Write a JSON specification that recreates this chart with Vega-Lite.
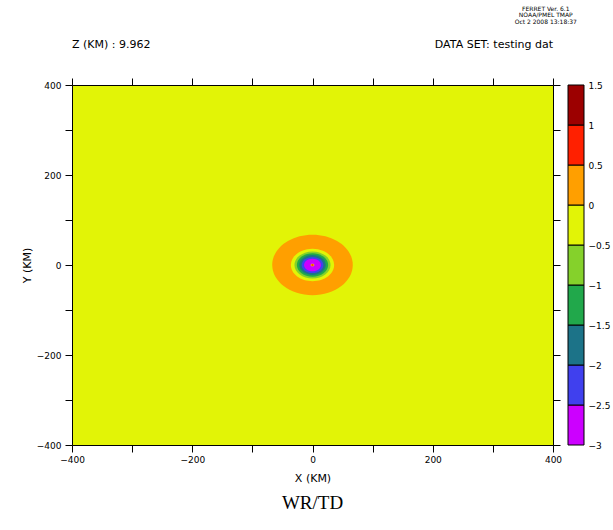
{
  "$schema": "https://vega.github.io/schema/vega-lite/v6.json",
  "background": "white",
  "autosize": {"type": "pad"},
  "padding": {"left": 21, "top": 5, "right": 5, "bottom": 5},
  "config": {
    "font": "DejaVu Sans",
    "view": {"stroke": null},
    "axis": {
      "grid": false,
      "domainColor": "black",
      "tickColor": "black",
      "labelColor": "black",
      "titleColor": "black",
      "labelFont": "DejaVu Sans",
      "titleFont": "DejaVu Sans",
      "labelFontSize": 9,
      "titleFontSize": 11,
      "titleFontWeight": "normal",
      "tickSize": 7,
      "domainWidth": 1,
      "tickWidth": 1
    }
  },
  "spacing": 15,
  "bounds": "flush",
  "hconcat": [
    {
      "width": 481,
      "height": 360,
      "view": {"fill": "#e2f406", "stroke": null},
      "resolve": {"axis": {"x": "independent", "y": "independent"}},
      "layer": [
        {
          "data": {"values": [
            {"x": 0, "y": 0, "r": 67, "v": 0.25},
            {"x": 0, "y": 0, "r": 36, "v": -0.25},
            {"x": 0, "y": 0, "r": 30, "v": -0.75},
            {"x": 0, "y": 0, "r": 26, "v": -1.25},
            {"x": 0, "y": 0, "r": 22, "v": -1.75},
            {"x": 0, "y": 0, "r": 18, "v": -2.25},
            {"x": 0, "y": 0, "r": 14, "v": -2.75},
            {"x": 0, "y": 0, "r": 3, "v": -0.25},
            {"x": 0, "y": 0, "r": 2.4, "v": 0.25},
            {"x": 0, "y": 0, "r": 1.7, "v": 0.75}
          ]},
          "mark": {"type": "point", "shape": "M-1,0A1,0.7484,0,1,0,1,0A1,0.7484,0,1,0,-1,0Z", "filled": true, "opacity": 1, "strokeWidth": 0},
          "encoding": {
            "x": {"field": "x", "type": "quantitative",
              "scale": {"domain": [-400, 400], "nice": false, "zero": false},
              "axis": {"orient": "bottom", "values": [-400, -300, -200, -100, 0, 100, 200, 300, 400], "format": "d",
                "labelExpr": "datum.value % 200 == 0 ? datum.label : ''",
                "title": "X (KM)", "labelPadding": 3, "titlePadding": 8,
                "labelFlush": false, "labelOverlap": false, "labelBound": false}},
            "y": {"field": "y", "type": "quantitative",
              "scale": {"domain": [-400, 400], "nice": false, "zero": false},
              "axis": {"orient": "left", "values": [-400, -300, -200, -100, 0, 100, 200, 300, 400], "format": "d",
                "labelExpr": "datum.value % 200 == 0 ? datum.label : ''",
                "title": "Y (KM)", "labelPadding": 4, "titlePadding": 4,
                "labelFlush": false, "labelOverlap": false, "labelBound": false}},
            "fill": {"field": "v", "type": "quantitative",
              "scale": {"type": "threshold", "domain": [-2.5, -2, -1.5, -1, -0.5, 0, 0.5, 1],
                "range": ["#cc00ff", "#4040ee", "#1c7388", "#21a84b", "#85d12b", "#e2f406", "#ff9f00", "#ff2000", "#9c0000"]},
              "legend": null},
            "size": {"field": "r", "type": "quantitative",
              "scale": {"type": "pow", "exponent": 2, "domain": [0, 100], "range": [0, 14460]},
              "legend": null},
            "order": {"field": "r", "type": "quantitative", "sort": "descending"}
          }
        },
        {
          "data": {"values": [{"t": ""}]},
          "mark": {"type": "text"},
          "encoding": {
            "x": {"datum": 0, "type": "quantitative",
              "axis": {"orient": "top", "values": [-400, -300, -200, -100, 0, 100, 200, 300, 400], "labels": false, "title": null}},
            "y": {"datum": 0, "type": "quantitative",
              "axis": {"orient": "right", "values": [-400, -300, -200, -100, 0, 100, 200, 300, 400], "labels": false, "title": null}},
            "text": {"field": "t"}
          }
        },
        {
          "data": {"values": [{"t": "Z (KM) : 9.962"}]},
          "mark": {"type": "text", "align": "left", "baseline": "middle", "fontSize": 11, "font": "DejaVu Sans", "color": "black"},
          "encoding": {
            "x": {"datum": -400, "type": "quantitative", "axis": null},
            "y": {"datum": 488, "type": "quantitative", "axis": null},
            "text": {"field": "t"}
          }
        },
        {
          "data": {"values": [{"t": "DATA SET: testing dat"}]},
          "mark": {"type": "text", "align": "right", "baseline": "middle", "fontSize": 11, "font": "DejaVu Sans", "color": "black"},
          "encoding": {
            "x": {"datum": 400, "type": "quantitative", "axis": null},
            "y": {"datum": 488, "type": "quantitative", "axis": null},
            "text": {"field": "t"}
          }
        },
        {
          "data": {"values": [{"t": "FERRET Ver. 6.1"}]},
          "mark": {"type": "text", "align": "center", "baseline": "middle", "fontSize": 6, "font": "DejaVu Sans", "color": "black"},
          "encoding": {
            "x": {"datum": 388, "type": "quantitative", "axis": null},
            "y": {"datum": 570, "type": "quantitative", "axis": null},
            "text": {"field": "t"}
          }
        },
        {
          "data": {"values": [{"t": "NOAA/PMEL TMAP"}]},
          "mark": {"type": "text", "align": "center", "baseline": "middle", "fontSize": 6, "font": "DejaVu Sans", "color": "black"},
          "encoding": {
            "x": {"datum": 388, "type": "quantitative", "axis": null},
            "y": {"datum": 556, "type": "quantitative", "axis": null},
            "text": {"field": "t"}
          }
        },
        {
          "data": {"values": [{"t": "Oct  2 2008 13:18:37"}]},
          "mark": {"type": "text", "align": "center", "baseline": "middle", "fontSize": 6, "font": "DejaVu Sans", "color": "black"},
          "encoding": {
            "x": {"datum": 388, "type": "quantitative", "axis": null},
            "y": {"datum": 541, "type": "quantitative", "axis": null},
            "text": {"field": "t"}
          }
        },
        {
          "data": {"values": [{"t": "WR/TD"}]},
          "mark": {"type": "text", "align": "center", "baseline": "middle", "fontSize": 19, "font": "Liberation Serif", "color": "black"},
          "encoding": {
            "x": {"datum": 0, "type": "quantitative", "axis": null},
            "y": {"datum": -529, "type": "quantitative", "axis": null},
            "text": {"field": "t"}
          }
        }
      ]
    },
    {
      "width": 16,
      "height": 360,
      "data": {"values": [
        {"lo": -3, "hi": -2.5, "v": -2.75},
        {"lo": -2.5, "hi": -2, "v": -2.25},
        {"lo": -2, "hi": -1.5, "v": -1.75},
        {"lo": -1.5, "hi": -1, "v": -1.25},
        {"lo": -1, "hi": -0.5, "v": -0.75},
        {"lo": -0.5, "hi": 0, "v": -0.25},
        {"lo": 0, "hi": 0.5, "v": 0.25},
        {"lo": 0.5, "hi": 1, "v": 0.75},
        {"lo": 1, "hi": 1.5, "v": 1.25}
      ]},
      "mark": {"type": "rect", "stroke": "black", "strokeWidth": 1},
      "encoding": {
        "y": {"field": "lo", "type": "quantitative",
          "scale": {"domain": [-3, 1.5], "nice": false, "zero": false},
          "axis": {"orient": "right", "values": [-3, -2.5, -2, -1.5, -1, -0.5, 0, 0.5, 1, 1.5], "format": "~g",
            "domain": false, "ticks": false, "labelPadding": 4, "title": null,
            "labelFlush": false, "labelOverlap": false, "labelBound": false}},
        "y2": {"field": "hi"},
        "fill": {"field": "v", "type": "quantitative",
          "scale": {"type": "threshold", "domain": [-2.5, -2, -1.5, -1, -0.5, 0, 0.5, 1],
            "range": ["#cc00ff", "#4040ee", "#1c7388", "#21a84b", "#85d12b", "#e2f406", "#ff9f00", "#ff2000", "#9c0000"]},
          "legend": null}
      }
    }
  ]
}
